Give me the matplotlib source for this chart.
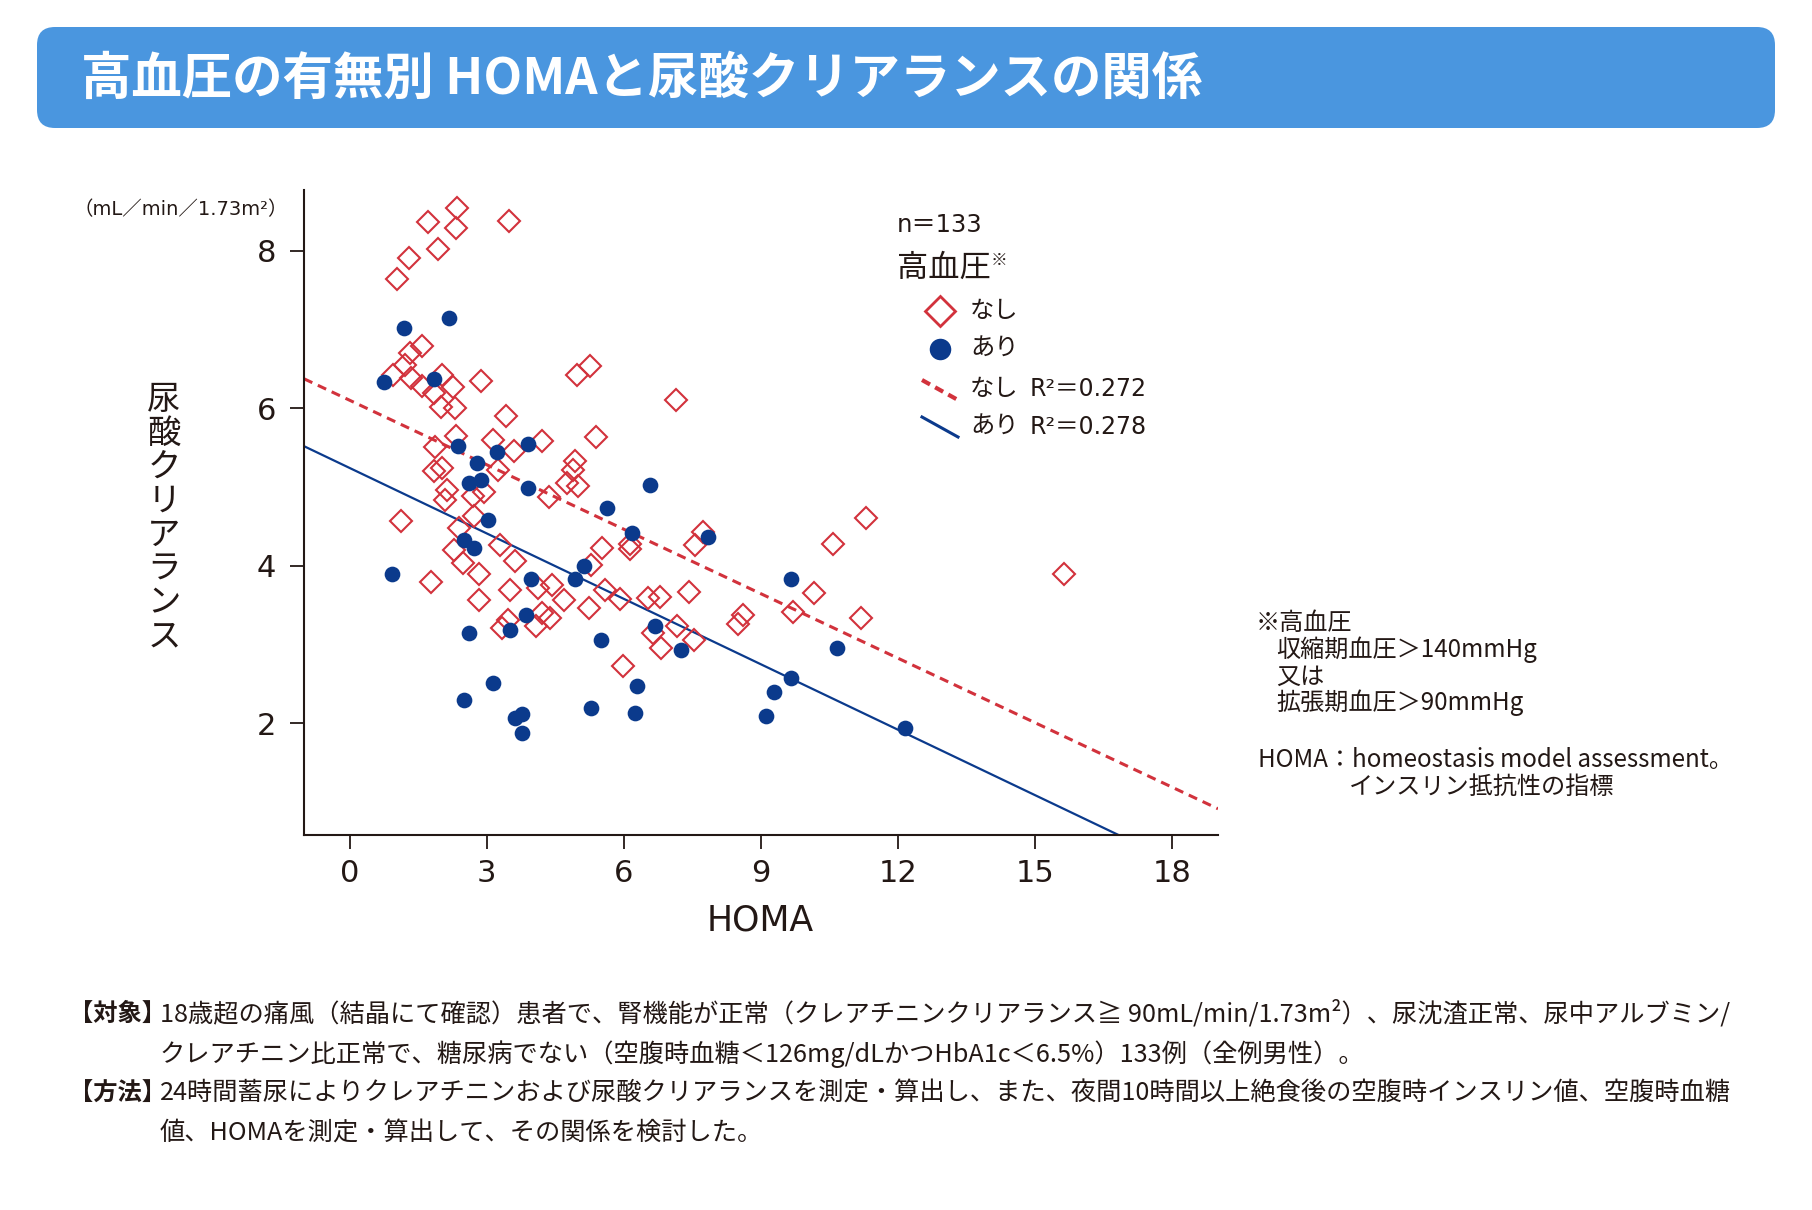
import matplotlib
matplotlib.use("Agg")
import matplotlib.pyplot as plt
import numpy as np
from matplotlib.patches import FancyBboxPatch
from matplotlib.lines import Line2D
from matplotlib.transforms import IdentityTransform

plt.rcParams['font.family'] = ['Noto Sans CJK JP', 'DejaVu Sans']
WIDE = ['DejaVu Sans', 'Noto Sans CJK JP']   # 数字・欧文が広めの書体

# 高血圧なし (◇)
nashi_x = [2.34, 1.71, 3.48, 2.33, 1.93, 1.29, 1.03, 1.59, 1.32, 1.20, 0.94, 1.34, 2.02, 1.58,
           2.27, 2.87, 4.98, 5.26, 7.15, 1.85,
           2.00, 2.31, 3.42, 2.32, 1.87, 3.14, 4.21, 5.38, 3.60, 1.85, 2.02, 3.24, 4.94, 4.89,
           4.75, 5.00, 2.12, 2.09, 2.69, 2.93, 4.36, 2.73, 1.13, 2.40, 3.28, 2.29, 2.49, 3.62,
           5.51, 5.29, 6.13, 6.14, 7.55, 7.73, 1.77, 2.82, 3.51, 4.11, 4.43, 2.83, 4.70, 5.58,
           5.91, 5.24, 6.53, 6.79, 7.42, 4.20, 4.38, 3.47, 3.33, 4.08, 6.64, 7.17, 6.82, 7.54,
           5.97,
           11.29, 10.58, 15.63, 10.16, 9.70, 8.61, 8.50, 11.18]
nashi_y = [8.54, 8.37, 8.38, 8.29, 8.02, 7.91, 7.64, 6.79, 6.70, 6.55, 6.42, 6.38, 6.42, 6.28,
           6.27, 6.35, 6.42, 6.54, 6.10, 6.19,
           6.01, 6.00, 5.90, 5.65, 5.51, 5.60, 5.58, 5.64, 5.45, 5.20, 5.24, 5.21, 5.33, 5.21,
           5.05, 5.01, 4.96, 4.83, 4.88, 4.93, 4.87, 4.63, 4.57, 4.48, 4.26, 4.20, 4.04, 4.06,
           4.23, 4.01, 4.28, 4.21, 4.26, 4.43, 3.79, 3.89, 3.69, 3.71, 3.76, 3.56, 3.56, 3.69,
           3.58, 3.46, 3.59, 3.60, 3.67, 3.40, 3.33, 3.31, 3.21, 3.23, 3.14, 3.23, 2.95, 3.06,
           2.73,
           4.60, 4.28, 3.89, 3.65, 3.41, 3.37, 3.26, 3.34]

# 高血圧あり (●)
ari_x = [1.18, 2.18, 0.76, 1.85,
         2.36, 3.91, 3.23, 2.78, 2.60, 2.87, 3.91, 6.57, 5.64, 6.17, 7.84, 3.03, 2.51, 2.71,
         5.13, 4.94, 0.92, 3.97, 3.86, 6.68, 7.26, 2.62, 3.51, 5.50, 3.13, 2.51, 6.28, 5.28,
         6.24, 3.62, 3.78, 3.78,
         9.65, 10.66, 9.65, 9.29, 9.10, 12.16]
ari_y = [7.02, 7.14, 6.33, 6.37,
         5.52, 5.54, 5.44, 5.30, 5.05, 5.09, 4.99, 5.02, 4.73, 4.42, 4.36, 4.58, 4.33, 4.23,
         3.99, 3.83, 3.90, 3.83, 3.37, 3.23, 2.93, 3.15, 3.18, 3.06, 2.51, 2.29, 2.47, 2.19,
         2.13, 2.06, 2.12, 1.87,
         3.83, 2.95, 2.57, 2.40, 2.09, 1.94]

# 回帰直線 (切片, 傾き)
fit_nashi = (6.10, -0.273)
fit_ari = (5.24, -0.277)

x_ticks = [0, 3, 6, 9, 12, 15, 18]
y_ticks = [2, 4, 6, 8]

title = "高血圧の有無別 HOMAと尿酸クリアランスの関係"
footer = [
    ("【対象】", "18歳超の痛風（結晶にて確認）患者で、腎機能が正常（クレアチニンクリアランス≧ 90mL/min/1.73m²）、尿沈渣正常、尿中アルブミン/"),
    ("", "クレアチニン比正常で、糖尿病でない（空腹時血糖＜126mg/dLかつHbA1c＜6.5%）133例（全例男性）。"),
    ("【方法】", "24時間蓄尿によりクレアチニンおよび尿酸クリアランスを測定・算出し、また、夜間10時間以上絶食後の空腹時インスリン値、空腹時血糖"),
    ("", "値、HOMAを測定・算出して、その関係を検討した。"),
]

W, H = 1812, 1210
INK = '#231815'
RED = '#d2323c'
NAVY = '#0b3a8c'


def px(x, y):
    return x / W, 1 - y / H


fig = plt.figure(figsize=(W / 100, H / 100), dpi=100)

# タイトルバー
bar = FancyBboxPatch((37, H - 128), 1738, 101, boxstyle="round,pad=0,rounding_size=18",
                     transform=IdentityTransform(), facecolor='#4a96df', edgecolor='none')
fig.add_artist(bar)
fig.text(*px(81, 79), title, color='white', fontsize=36.3, fontweight='bold', va='center')

ax = fig.add_axes([304 / W, 1 - 835 / H, 914 / W, 645 / H])
xx = np.array([-1, 19])
ax.plot(xx, fit_nashi[0] + fit_nashi[1] * xx, color=RED, lw=2.2, dashes=(3, 2), zorder=2)
ax.plot(xx, fit_ari[0] + fit_ari[1] * xx, color=NAVY, lw=1.6, zorder=2)
ax.plot(nashi_x, nashi_y, ls='none', marker='D', ms=10.8, mfc='none', mec=RED, mew=1.5, zorder=3)
ax.plot(ari_x, ari_y, ls='none', marker='o', ms=11.3, mfc=NAVY, mec='none', zorder=4)

ax.set_xlim(-1, 19)
ax.set_ylim(0.58, 8.77)
ax.set_xticks(x_ticks)
ax.set_yticks(y_ticks)
for s in ['top', 'right']:
    ax.spines[s].set_visible(False)
for s in ['left', 'bottom']:
    ax.spines[s].set_color(INK)
    ax.spines[s].set_linewidth(1.5)
ax.tick_params(length=10, width=1.3, color=INK, labelsize=22, labelcolor=INK)
ax.tick_params(axis='y', pad=10)
ax.tick_params(axis='x', pad=7)
for lab in ax.get_xticklabels() + ax.get_yticklabels():
    lab.set_family(WIDE)
ax.set_xlabel("HOMA", fontsize=25, color=INK, va='center', family=WIDE)
ax.xaxis.set_label_coords(0.499, -0.133)

# 縦書きの軸ラベル
for i, ch in enumerate("尿酸クリアランス"):
    fig.text(*px(164, 399 + i * 34), ch, fontsize=24, color=INK, ha='center', va='center')
fig.text(*px(181, 210), "（mL／min／1.73m²）", fontsize=14, color=INK, ha='center', va='center',
         family=WIDE)

# 凡例
fig.text(*px(897, 232), "n＝133", fontsize=17.5, color=INK, va='baseline', family=WIDE)
fig.text(*px(897, 268), "高血圧", fontsize=22.5, color=INK, va='center')
fig.text(*px(999, 260), "※", fontsize=12, color=INK, ha='center', va='center')
fig.add_artist(Line2D([940 / W], [1 - 311 / H], marker='D', ms=15, mfc='none', mec=RED, mew=2,
                      transform=fig.transFigure))
fig.add_artist(Line2D([940 / W], [1 - 349 / H], marker='o', ms=15.5, mfc=NAVY, mec='none',
                      transform=fig.transFigure))
fig.add_artist(Line2D([922 / W, 958 / W], [1 - 380 / H, 1 - 400 / H], color=RED, lw=3,
                      dashes=(2.2, 1.4), transform=fig.transFigure))
fig.add_artist(Line2D([922 / W, 958 / W], [1 - 417 / H, 1 - 437 / H], color=NAVY, lw=2.2,
                      transform=fig.transFigure))
for y, lab in [(311, "なし"), (349, "あり"), (389, "なし"), (427, "あり")]:
    fig.text(*px(970, y), lab, fontsize=17.5, color=INK, va='center')
fig.text(*px(1030, 389), "R²＝0.272", fontsize=17, color=INK, va='center', family=WIDE)
fig.text(*px(1030, 427), "R²＝0.278", fontsize=17, color=INK, va='center', family=WIDE)

# 注釈
notes = [(1256, 623, "※高血圧"), (1276, 650, "収縮期血圧＞140mmHg"), (1276, 677, "又は"),
         (1276, 703, "拡張期血圧＞90mmHg"), (1258, 760, "HOMA：homeostasis model assessment。"),
         (1349, 787, "インスリン抵抗性の指標")]
for x, y, t in notes:
    fig.text(*px(x, y), t, fontsize=17.4, color=INK, va='center')

# 脚注
for i, (head, body) in enumerate(footer):
    y = 1014 + i * 40
    if head:
        fig.text(*px(69, y), head, fontsize=17.5, fontweight='bold', color=INK, va='center')
    fig.text(*px(160, y), body, fontsize=18.2, color=INK, va='center')

fig.savefig("out.png", dpi=100, facecolor='white')
